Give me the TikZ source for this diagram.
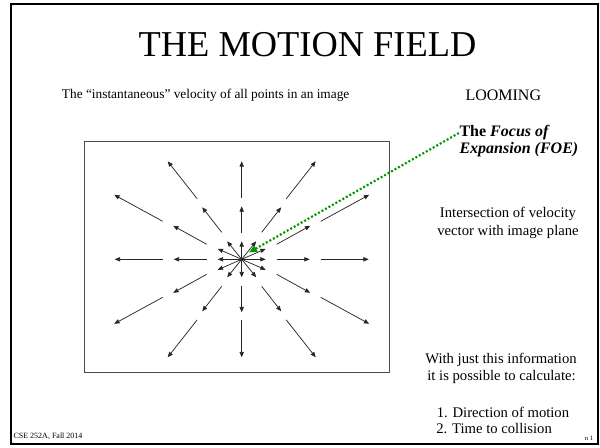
\documentclass[tikz,border=0pt]{standalone}
\usepackage{fontspec}
\setmainfont{Liberation Serif}
\usetikzlibrary{arrows.meta}
\definecolor{foegreen}{RGB}{0,150,0}
\begin{document}
\begin{tikzpicture}[x=0.75pt,y=-0.75pt,
  vec/.style={line width=0.55pt, black!85, -{Triangle[length=4pt,width=3.2pt]}},
  txt/.style={inner sep=0pt, font=\fontsize{12}{14}\selectfont},
  smalltxt/.style={inner sep=0pt, font=\fontsize{11}{13}\selectfont},
  foeline/.style={line width=1.6pt, foegreen, dash pattern=on 1.5pt off 1.5pt,
    {Triangle[length=6pt,width=5pt,fill=foegreen]}-}]
\useasboundingbox (0,0) rectangle (600,447);
% slide frame
\draw[line width=1.9pt] (11,4) rectangle (598,444);
% title and texts
\node[inner sep=0pt, anchor=base, font=\fontsize{27.3}{30}\selectfont] (title) at (307.5,56.7) {THE MOTION FIELD};
\node[inner sep=0pt, anchor=base west, font=\fontsize{10}{12}\selectfont] (sub) at (61.7,98.3) {The “instantaneous” velocity of all points in an image};
\node[txt, anchor=base] (loom) at (503.3,100.7) {LOOMING};
\node[txt, anchor=base west, font=\fontsize{12}{14}\selectfont\bfseries] (foe) at (459.3,136.7) {The \textit{Focus of}};
\node[txt, anchor=base west, font=\fontsize{12}{14}\selectfont\bfseries\itshape] (foeb) at (459.3,153.3) {Expansion (FOE)};
\node[smalltxt, anchor=base] (int1) at (508,217.3) {Intersection of velocity};
\node[smalltxt, anchor=base] (int2) at (508,235) {vector with image plane};
\node[smalltxt, anchor=base] (with1) at (501,363.3) {With just this information};
\node[smalltxt, anchor=base] (with2) at (501.5,380.7) {it is possible to calculate:};
\node[smalltxt, anchor=base west] (num1) at (436.5,417.3) {1. Direction of motion};
\node[smalltxt, anchor=base west] (num2) at (436,433.3) {2. Time to collision};
\node[inner sep=0pt, anchor=base west, font=\fontsize{6}{7}\selectfont] (foot) at (13.3,438.5) {CSE 252A, Fall 2014};
\node[inner sep=0pt, anchor=base west, font=\fontsize{5}{6}\selectfont] (pg) at (584.5,440) {n 1};
% image box
\draw[line width=0.75pt, black!70] (84,141) rectangle (389.3,372.3);
\coordinate (c) at (241.7,259.3);
% radial motion field
\begin{scope}[shift={(c)}]
  \foreach \s in {1,-1}{
    % horizontal rings
    \draw[vec] (0,0) -- (\s*24,0);
    \draw[vec] (\s*35,0) -- (\s*68,0);
    \draw[vec] (\s*79,0) -- (\s*127,0);
    % vertical rings
    \draw[vec] (0,0) -- (0,\s*18);
    \draw[vec] (0,\s*26.5) -- (0,\s*53);
    \draw[vec] (0,\s*61) -- (0,\s*98);
  }
  \foreach \sx in {1,-1}{
    \foreach \sy in {1,-1}{
      % steep diagonals
      \draw[vec] (0,0) -- (\sx*14.5,\sy*18);
      \draw[vec] (\sx*20,\sy*27) -- (\sx*39.5,\sy*52);
      \draw[vec] (\sx*44.5,\sy*60.5) -- (\sx*74,\sy*98);
      % shallow diagonals
      \draw[vec] (0,0) -- (\sx*24,\sy*10.5);
      \draw[vec] (\sx*35,\sy*15) -- (\sx*68.5,\sy*33.5);
      \draw[vec] (\sx*79,\sy*38) -- (\sx*127.5,\sy*64.5);
    }
  }
\end{scope}
% pointer from FOE label to the centre of expansion
\coordinate (foetip) at (249,252.5);
\draw[foeline] (foetip) -- (foe.west);
\end{tikzpicture}
\end{document}
